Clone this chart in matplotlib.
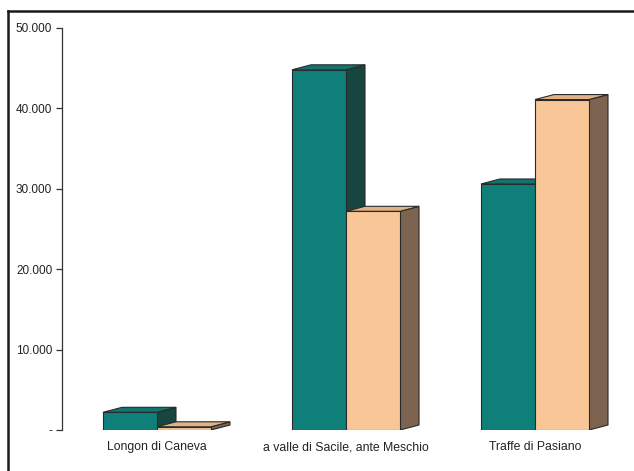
import matplotlib
matplotlib.use('Agg')
import matplotlib.pyplot as plt
from matplotlib.patches import Polygon
from matplotlib.lines import Line2D

categories = ['Longon di Caneva', 'a valle di Sacile, ante Meschio', 'Traffe di Pasiano']
serie_a = [2200, 44800, 30600]   # verde
serie_b = [400, 27200, 41100]    # pesca
yticks = [0, 10000, 20000, 30000, 40000, 50000]
ylabels = ['-', '10.000', '20.000', '30.000', '40.000', '50.000']

plt.rcParams['font.family'] = ['Liberation Sans', 'DejaVu Sans']

W, H = 634, 471
fig = plt.figure(figsize=(W / 100, H / 100), dpi=100)
ax = fig.add_axes([62 / W, 41 / H, (W - 62) / W, 402 / H])
ax.set_xlim(-0.5026, 2.5238)
ax.set_ylim(0, 50000)

bw = 54 / 189          # larghezza barra in unita' x
dx = 19 / 189          # profondita' 3d
dy = 5 * 50000 / 402

colori = {
    'a': ('#0f7f7a', '#117470', '#16463f'),   # fronte, sopra, lato
    'b': ('#f9c797', '#e2b184', '#7c6450'),
}

def barra3d(x0, h, col):
    x1 = x0 + bw
    front, top, side = col
    kw = dict(edgecolor='#2a2a2a', linewidth=0.8, joinstyle='miter')
    ax.add_patch(Polygon([(x1, 0), (x1 + dx, dy), (x1 + dx, h + dy), (x1, h)],
                         facecolor=side, **kw))
    ax.add_patch(Polygon([(x0, h), (x1, h), (x1 + dx, h + dy), (x0 + dx, h + dy)],
                         facecolor=top, **kw))
    ax.add_patch(Polygon([(x0, 0), (x1, 0), (x1, h), (x0, h)],
                         facecolor=front, **kw))

for i in range(len(categories)):
    barra3d(i - bw, serie_a[i], colori['a'])
    barra3d(i, serie_b[i], colori['b'])

for s in ['top', 'right', 'bottom']:
    ax.spines[s].set_visible(False)
ax.spines['left'].set_color('#333333')
ax.spines['left'].set_linewidth(0.9)

ax.set_yticks(yticks)
ax.set_yticklabels(ylabels, fontsize=8.5, color='#222222')
ax.tick_params(axis='y', length=4, width=0.9, color='#333333', pad=3)
ax.set_xticks(range(len(categories)))
ax.set_xticklabels(categories, fontsize=8.8, color='#222222')
ax.tick_params(axis='x', length=0, pad=8)
ax.patch.set_visible(False)

# cornice
fig.add_artist(Line2D([8 / W, 8 / W], [0, (H - 11) / H], color='#1a1a1a', linewidth=1.8,
                      transform=fig.transFigure, solid_capstyle='projecting'))
fig.add_artist(Line2D([8 / W, 1], [(H - 11) / H, (H - 11) / H], color='#1a1a1a', linewidth=1.8,
                      transform=fig.transFigure, solid_capstyle='projecting'))

fig.savefig('out.png', dpi=100)
